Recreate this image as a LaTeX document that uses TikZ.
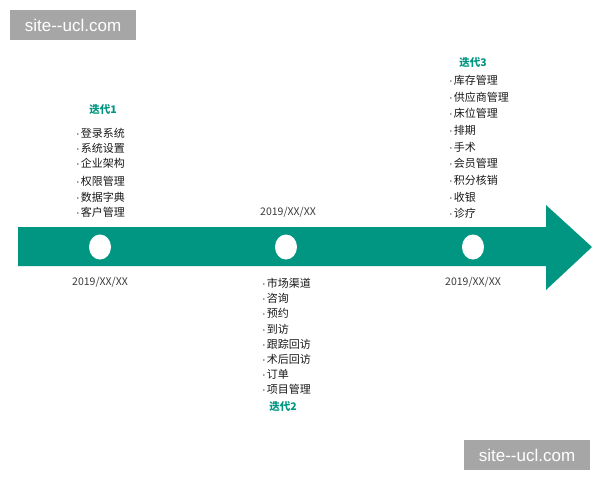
\documentclass[tikz,border=0pt]{standalone}
\usepackage{fontspec}
\setmainfont{Noto Sans CJK SC}
\newfontfamily\latf{Liberation Sans}
\usetikzlibrary{shapes.geometric}
\definecolor{teal1}{RGB}{0,150,130}
\definecolor{txt}{RGB}{25,25,25}
\definecolor{wm}{RGB}{166,166,166}
\newcommand{\bul}{{\latf\textperiodcentered}\kern1pt}
\tikzset{
  item/.style={anchor=west,inner sep=0pt,font=\fontsize{11}{12}\selectfont,text=txt},
  ttl/.style={inner sep=0pt,font=\fontsize{10.5}{12}\selectfont\bfseries,text=teal1},
  date/.style={inner sep=0pt,font=\fontsize{10.5}{11}\selectfont,text=txt!85},
  dot/.style={ellipse,fill=white,minimum width=22pt,minimum height=25pt,inner sep=0pt},
  wmbox/.style={fill=wm,text=white,minimum width=126pt,minimum height=30pt,inner sep=0pt,font=\fontsize{17}{18}\selectfont\latf}
}
\begin{document}
\begin{tikzpicture}[x=1pt,y=-1pt]
\useasboundingbox (0,0) rectangle (600,480);
\fill[white] (0,0) rectangle (600,480);
% arrow
\fill[teal1] (18,227) -- (546,227) -- (546,205) -- (592,247) -- (546,290) -- (546,266) -- (18,266) -- cycle;
\node[dot] (c1) at (100,247) {};
\node[dot] (c2) at (286,247) {};
\node[dot] (c3) at (473,247) {};
% watermarks
\node[wmbox] (wm1) at (73,25) {site-{}-ucl.com};
\node[wmbox] (wm2) at (527,455) {site-{}-ucl.com};
% group 1
\node[ttl] (t1) at (103,110) {迭代1};
\node[item] (a1) at (76,133) {\bul 登录系统};
\node[item] (a2) at (76,148) {\bul 系统设置};
\node[item] (a3) at (76,163) {\bul 企业架构};
\node[item] (a4) at (76,181) {\bul 权限管理};
\node[item] (a5) at (76,197) {\bul 数据字典};
\node[item] (a6) at (76,212) {\bul 客户管理};
\node[date] (d1) at (100,282) {2019/XX/XX};
% group 2
\node[date] (d2) at (288,212) {2019/XX/XX};
\node[item] (b1) at (262,283) {\bul 市场渠道};
\node[item] (b2) at (262,298) {\bul 咨询};
\node[item] (b3) at (262,313) {\bul 预约};
\node[item] (b4) at (262,329) {\bul 到访};
\node[item] (b5) at (262,344) {\bul 跟踪回访};
\node[item] (b6) at (262,359) {\bul 术后回访};
\node[item] (b7) at (262,374) {\bul 订单};
\node[item] (b8) at (262,389) {\bul 项目管理};
\node[ttl] (t2) at (283,407) {迭代2};
% group 3
\node[ttl] (t3) at (473,63) {迭代3};
\node[item] (e1) at (449,80) {\bul 库存管理};
\node[item] (e2) at (449,97) {\bul 供应商管理};
\node[item] (e3) at (449,113) {\bul 床位管理};
\node[item] (e4) at (449,130) {\bul 排期};
\node[item] (e5) at (449,147) {\bul 手术};
\node[item] (e6) at (449,163) {\bul 会员管理};
\node[item] (e7) at (449,180) {\bul 积分核销};
\node[item] (e8) at (449,197) {\bul 收银};
\node[item] (e9) at (449,213) {\bul 诊疗};
\node[date] (d3) at (473,282) {2019/XX/XX};
\end{tikzpicture}
\end{document}
